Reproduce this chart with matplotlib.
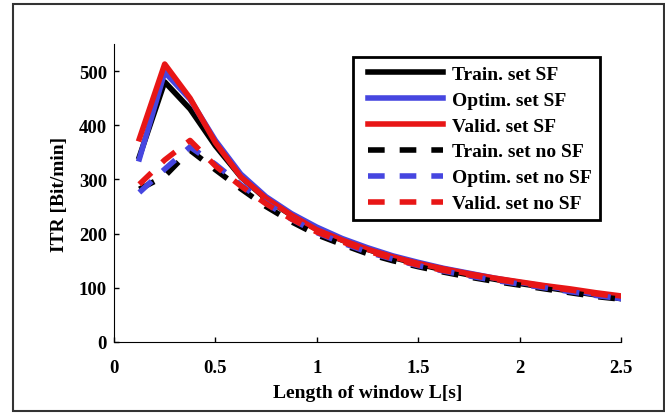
import numpy as np
import matplotlib
matplotlib.use('Agg')
import matplotlib.pyplot as plt
from matplotlib.patches import Rectangle
from matplotlib.legend_handler import HandlerLine2D

# datos
window_len = [0.125, 0.25, 0.375, 0.5, 0.625, 0.75, 0.875, 1.0, 1.125, 1.25,
              1.375, 1.5, 1.625, 1.75, 1.875, 2.0, 2.125, 2.25, 2.375, 2.5]

train_sf = [342, 480, 430, 362, 305, 264, 234, 208, 188, 171,
            156, 144, 133, 124, 116, 108, 101, 94, 87, 80]
optim_sf = [338, 498, 448, 372, 310, 268, 237, 212, 191, 174,
            159, 147, 136, 127, 118, 110, 103, 96, 88, 80]
valid_sf = [375, 513, 450, 368, 305, 265, 234, 207, 188, 171,
            157, 145, 135, 126, 118, 111, 104, 98, 91, 85]

train_nosf = [282, 306, 354, 318, 283, 250, 222, 198, 180, 163,
              150, 139, 129, 120, 112, 105, 98, 91, 84, 79]
optim_nosf = [276, 319, 360, 328, 290, 256, 227, 202, 183, 166,
              153, 141, 131, 122, 114, 107, 100, 93, 86, 80]
valid_nosf = [291, 336, 372, 325, 288, 255, 227, 203, 185, 168,
              154, 142, 132, 124, 116, 109, 102, 96, 89, 83]

labels = ['Train. set SF', 'Optim. set SF', 'Valid. set SF',
          'Train. set no SF', 'Optim. set no SF', 'Valid. set no SF']
xtick_vals = [0, 0.5, 1, 1.5, 2, 2.5]
xtick_labels = ['0', '0.5', '1', '1.5', '2', '2.5']
ytick_vals = [0, 100, 200, 300, 400, 500]

c_black = '#000000'
c_blue = '#4646e0'
c_red = '#e81616'

plt.rcParams['font.family'] = ['Liberation Serif', 'DejaVu Serif']
plt.rcParams['font.weight'] = 'bold'
plt.rcParams['font.size'] = 14

fig = plt.figure(figsize=(6.65, 4.14), dpi=100)
ax = fig.add_axes([114 / 665, 1 - 343 / 414, 507 / 665, 298 / 414])

# marco exterior
fig.patches.append(Rectangle((13 / 665, 1 - 412 / 414), 651 / 665, 407 / 414,
                             transform=fig.transFigure, fill=False,
                             edgecolor='#333333', linewidth=1.5))

lw = 4.0
ax.plot(window_len, train_sf, color=c_black, lw=lw, label=labels[0])
ax.plot(window_len, optim_sf, color=c_blue, lw=lw, label=labels[1])
ax.plot(window_len, valid_sf, color=c_red, lw=lw, label=labels[2])
dash = (3.0, 2.7)
ax.plot(window_len, train_nosf, color=c_black, lw=lw, dashes=dash, label=labels[3])
ax.plot(window_len, optim_nosf, color=c_blue, lw=lw, dashes=dash, label=labels[4])
ax.plot(window_len, valid_nosf, color=c_red, lw=lw, dashes=dash, label=labels[5])

ax.set_xlim(0, 2.5)
ax.set_ylim(0, 550)
ax.set_xticks(xtick_vals)
ax.set_xticklabels(xtick_labels)
ax.set_yticks(ytick_vals)
ax.spines['top'].set_visible(False)
ax.spines['right'].set_visible(False)
ax.tick_params(direction='in', length=3.5, width=1, labelsize=13.5)
ax.tick_params(axis='x', pad=12)
ax.tick_params(axis='y', pad=5)

ax.set_xlabel('Length of window L[s]', fontsize=14, fontweight='bold', labelpad=6)
ax.set_ylabel('ITR [Bit/min]', fontsize=14, fontweight='bold', labelpad=8)

# handles desplazados hacia la derecha dentro de la leyenda
hmap = {}
for line in ax.get_lines():
    hmap[line] = HandlerLine2D(xpad=0.36)

leg = ax.legend(loc='upper left', bbox_to_anchor=(353 / 665, 1 - 58 / 414),
                bbox_transform=fig.transFigure, fancybox=False, framealpha=1,
                edgecolor='black', handlelength=4.23, handletextpad=0.46,
                labelspacing=0.43, borderpad=0.41, borderaxespad=0,
                handler_map=hmap,
                prop={'family': 'Liberation Serif', 'weight': 'bold', 'size': 14})
leg.get_frame().set_linewidth(2)

fig.savefig('out.png', dpi=100)
